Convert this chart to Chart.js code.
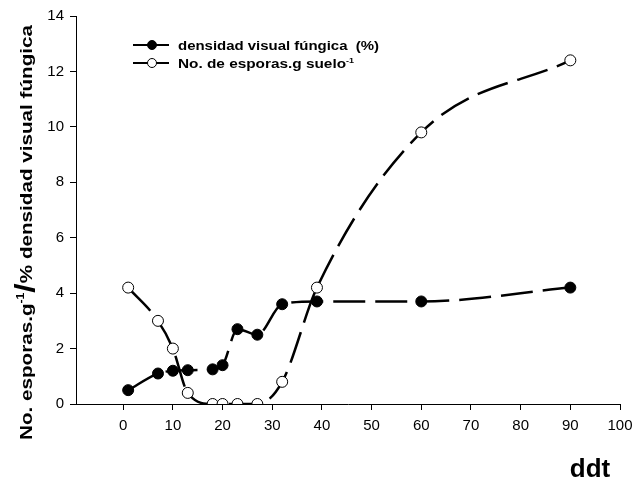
<!DOCTYPE html>
<html lang="es">
<head>
  <meta charset="UTF-8" />
  <title>Densidad visual fúngica</title>
  <script src="https://cdn.jsdelivr.net/npm/chart.js"></script>
  <style>
    body { margin: 0; background: #ffffff; }
    #wrap { width: 634px; height: 479px; }
  </style>
</head>
<body>
<div id="wrap"><canvas id="grafico" width="634" height="479"></canvas></div>
<script>
  // datos
  const dias = [1, 7, 10, 13, 18, 20, 23, 27, 32, 39, 60, 90];
  const densidad = [0.5, 1.1, 1.2, 1.22, 1.25, 1.4, 2.7, 2.5, 3.6, 3.7, 3.7, 4.2];
  const esporas = [4.2, 3.0, 2.0, 0.4, 0, 0, 0, 0, 0.8, 4.2, 9.8, 12.4];
  const ticksX = [0, 10, 20, 30, 40, 50, 60, 70, 80, 90, 100];
  const ticksY = [0, 2, 4, 6, 8, 10, 12, 14];

  const FUENTE = 'Arial, "Liberation Sans", sans-serif';

  // texto con superíndice, estirado para ocupar "largo" px
  function textoSup(ctx, partes, x, y, largo) {
    let ancho = 0;
    for (const p of partes) { ctx.font = p.font; ancho += ctx.measureText(p.t).width; }
    const sx = largo ? largo / ancho : 1;
    ctx.save();
    ctx.translate(x, y);
    ctx.scale(sx, 1);
    let cx = 0;
    for (const p of partes) {
      ctx.font = p.font;
      ctx.fillText(p.t, cx, p.dy || 0);
      cx += ctx.measureText(p.t).width;
    }
    ctx.restore();
  }

  const extras = {
    id: 'extras',
    afterDraw(chart) {
      const ctx = chart.ctx;
      ctx.save();
      ctx.fillStyle = '#000';
      ctx.textBaseline = 'alphabetic';
      ctx.textAlign = 'left';

      // leyenda
      const filas = [
        { y: 45, relleno: '#000', largo: 201, partes: [{ t: 'densidad visual fúngica  (%)', font: 'bold 12px ' + FUENTE }] },
        { y: 63, relleno: '#fff', largo: 176, partes: [
          { t: 'No. de esporas.g suelo', font: 'bold 12px ' + FUENTE },
          { t: '-1', font: 'bold 7px ' + FUENTE, dy: -5 }
        ] }
      ];
      for (const f of filas) {
        ctx.strokeStyle = '#000';
        ctx.lineWidth = 2;
        ctx.beginPath();
        ctx.moveTo(133, f.y);
        ctx.lineTo(169, f.y);
        ctx.stroke();
        ctx.beginPath();
        ctx.arc(152, f.y, 4.5, 0, Math.PI * 2);
        ctx.fillStyle = f.relleno;
        ctx.fill();
        ctx.lineWidth = 1;
        ctx.stroke();
        ctx.fillStyle = '#000';
        textoSup(ctx, f.partes, 178, f.y + 4.5, f.largo);
      }

      // título eje Y
      ctx.translate(32, 232);
      ctx.rotate(-Math.PI / 2);
      const partesY = [
        { t: 'No. esporas.g', font: 'bold 17px ' + FUENTE },
        { t: '-1', font: 'bold 10px ' + FUENTE, dy: -8 },
        { t: '/', font: 'bold 28px ' + FUENTE, dy: 2 },
        { t: '% densidad visual fúngica', font: 'bold 17px ' + FUENTE }
      ];
      textoSup(ctx, partesY, -208, 0, 415);
      ctx.setTransform(1, 0, 0, 1, 0, 0);

      // título eje X
      ctx.font = 'bold 26px ' + FUENTE;
      ctx.textAlign = 'center';
      ctx.fillText('ddt', 590, 477);
      ctx.restore();
    }
  };

  const ejeGrid = { display: true, drawOnChartArea: false, drawTicks: true, tickLength: 6, tickColor: '#000', color: '#000' };

  new Chart(document.getElementById('grafico'), {
    type: 'line',
    data: {
      datasets: [
        {
          label: 'densidad visual fúngica  (%)',
          data: dias.map((d, i) => ({ x: d, y: densidad[i] })),
          borderColor: '#000',
          borderWidth: 2.5,
          borderDash: [32, 10],
          pointRadius: 5.5,
          pointBackgroundColor: '#000',
          pointBorderColor: '#000',
          pointBorderWidth: 1,
          cubicInterpolationMode: 'monotone'
        },
        {
          label: 'No. de esporas.g suelo-1',
          data: dias.map((d, i) => ({ x: d, y: esporas[i] })),
          borderColor: '#000',
          borderWidth: 2.5,
          borderDash: [32, 10],
          pointRadius: 5.5,
          pointBackgroundColor: '#fff',
          pointBorderColor: '#000',
          pointBorderWidth: 1,
          cubicInterpolationMode: 'monotone'
        }
      ]
    },
    options: {
      responsive: false,
      animation: false,
      layout: { padding: { top: 16, right: 0, left: 0, bottom: 0 } },
      plugins: { legend: { display: false }, tooltip: { enabled: false } },
      scales: {
        x: {
          type: 'linear',
          min: -9.5,
          max: 100,
          afterBuildTicks: s => { s.ticks = ticksX.map(v => ({ value: v })); },
          afterFit: s => { s.height = 75; s.paddingRight = 14; },
          grid: ejeGrid,
          border: { color: '#000', width: 1 },
          ticks: { color: '#000', font: { family: FUENTE, size: 15 }, padding: 7, maxRotation: 0 }
        },
        y: {
          min: 0,
          max: 14,
          afterBuildTicks: s => { s.ticks = ticksY.map(v => ({ value: v })); },
          afterFit: s => { s.width = 76; },
          grid: ejeGrid,
          border: { color: '#000', width: 1 },
          ticks: { color: '#000', font: { family: FUENTE, size: 15 }, padding: 6 }
        }
      }
    },
    plugins: [extras]
  });
</script>
</body>
</html>
